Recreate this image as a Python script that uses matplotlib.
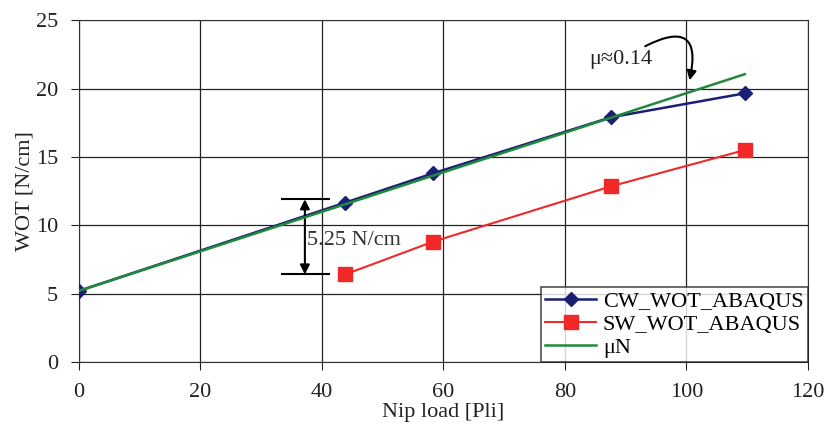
import numpy as np
import matplotlib.pyplot as plt

# values
nip_load = [0, 43.8, 58.3, 87.6, 109.6]
cw_wot = [5.2, 11.65, 13.8, 17.9, 19.65]
sw_load = [43.8, 58.3, 87.6, 109.6]
sw_wot = [6.4, 8.8, 12.85, 15.5]
mu_load = [0, 109.6]
mu_n = [5.2, 21.05]

plt.rcParams['font.family'] = ['Liberation Serif', 'DejaVu Serif']

fig = plt.figure(figsize=(8.3, 4.38), dpi=100)
ax = fig.add_axes([0.095, 0.1735, 0.8785, 0.7805])

ax.plot(nip_load, cw_wot, color='#1b1f73', lw=1.8, marker='D', ms=7,
        label='CW_WOT_ABAQUS', zorder=3)
ax.plot(sw_load, sw_wot, color='#f02828', lw=1.5, marker='s', ms=10,
        label='SW_WOT_ABAQUS', zorder=3)
ax.plot(mu_load, mu_n, color='#1f8a3c', lw=1.8, label='\u03bcN', zorder=4)

ax.set_xlim(0, 120)
ax.set_ylim(0, 25)
ax.set_xticks(np.arange(0, 121, 20))
ax.set_yticks(np.arange(0, 26, 5))
ax.grid(True, color='#222222', lw=0.9)
ax.set_axisbelow(True)
for s in ax.spines.values():
    s.set_color('#333333')
ax.tick_params(direction='out', length=6, labelsize=16, colors='#222222',
               pad=9)
ax.set_xlabel('Nip load [Pli]', fontsize=16, color='#222222', labelpad=1)
ax.set_ylabel('WOT [N/cm]', fontsize=16, color='#222222', labelpad=1)

# dimension arrow showing the offset
ax.hlines([11.9, 6.4], 33.2, 41.3, color='black', lw=1.5, zorder=5)
ax.annotate('', xy=(37.2, 6.4), xytext=(37.2, 11.9),
            arrowprops=dict(arrowstyle='<|-|>', color='black', lw=1.5,
                            mutation_scale=14, shrinkA=0, shrinkB=0))
ax.text(37.6, 8.9, '5.25 N/cm', fontsize=16, color='#333333',
        va='center', ha='left', zorder=6)

# friction coefficient annotation
ax.text(84.0, 22.1, '\u03bc\u22480.14', fontsize=16, color='#222222',
        va='center', ha='left')
ax.annotate('', xy=(100.4, 20.4), xytext=(92.8, 23.0),
            arrowprops=dict(arrowstyle='-|>', color='black', lw=1.5,
                            mutation_scale=14,
                            connectionstyle='arc3,rad=-1.1'))

leg = ax.legend(loc='lower right', fontsize=16, frameon=True, fancybox=False,
                edgecolor='#222222', borderaxespad=0, handlelength=2.3,
                handletextpad=0.3, borderpad=0.2, labelspacing=0.1)
leg.get_frame().set_linewidth(1.2)

fig.savefig('out.png', dpi=100)
